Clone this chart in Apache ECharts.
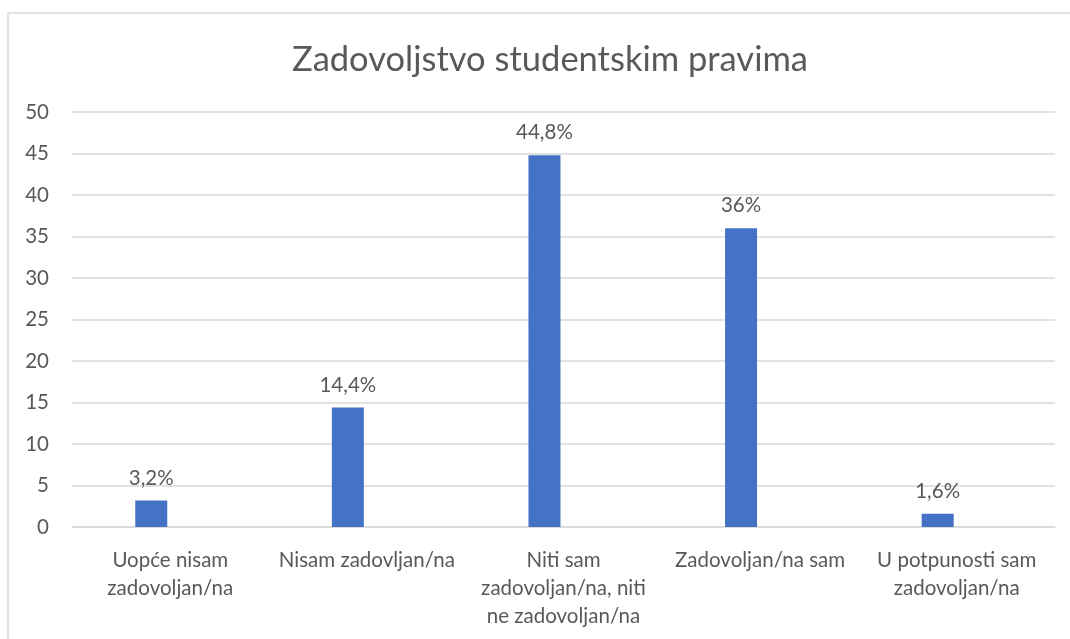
<!DOCTYPE html>
<html>
<head>
<meta charset="utf-8">
<script src="https://cdn.jsdelivr.net/npm/echarts@6/dist/echarts.min.js"></script>
<style>
  html, body { margin: 0; padding: 0; background: #fff; }
  #chart { width: 1070px; height: 639px; }
</style>
</head>
<body>
<div id="chart"></div>
<script>
const titleText = "Zadovoljstvo studentskim pravima";
const categories = [
  "Uopće nisam\nzadovoljan/na",
  "Nisam zadovljan/na",
  "Niti sam\nzadovoljan/na, niti\nne zadovoljan/na",
  "Zadovoljan/na sam",
  "U potpunosti sam\nzadovoljan/na"
];
const values = [3.2, 14.4, 44.8, 36, 1.6];

const textColor = "#595959";
const fontFamily = "Lato, 'Open Sans', sans-serif";

const chart = echarts.init(document.getElementById("chart"));
chart.setOption({
  animation: false,
  title: {
    text: titleText,
    left: 287,
    top: 37,
    textStyle: { color: textColor, fontSize: 34.5, fontWeight: "normal", fontFamily: fontFamily }
  },
  graphic: [{
    type: "rect",
    shape: { x: 8, y: 13, width: 1100, height: 700 },
    style: { fill: "none", stroke: "#D9D9D9", lineWidth: 1.5 },
    silent: true
  }],
  grid: { left: 72, right: 15, top: 112, bottom: 112 },
  xAxis: {
    type: "category",
    data: categories,
    axisLine: { lineStyle: { color: "#D9D9D9", width: 1.5 } },
    axisTick: { show: false },
    axisLabel: {
      color: textColor, fontSize: 20.5, fontFamily: fontFamily,
      lineHeight: 28, margin: 19, interval: 0
    }
  },
  yAxis: {
    type: "value",
    min: 0, max: 50, interval: 5,
    axisLine: { show: false },
    axisTick: { show: false },
    splitLine: { lineStyle: { color: "#D9D9D9", width: 1.5 } },
    axisLabel: { color: textColor, fontSize: 20.5, fontFamily: fontFamily, margin: 23 }
  },
  series: [
    {
      type: "bar",
      data: values,
      barWidth: 32,
      barGap: "19%",
      itemStyle: { color: "#4472C4" },
      label: {
        show: true, position: "top", distance: 12,
        color: textColor, fontSize: 20.5, fontFamily: fontFamily,
        formatter: p => String(p.value).replace(".", ",") + "%"
      }
    },
    {
      type: "bar",
      data: [],
      barWidth: 32
    }
  ]
});
</script>
</body>
</html>
